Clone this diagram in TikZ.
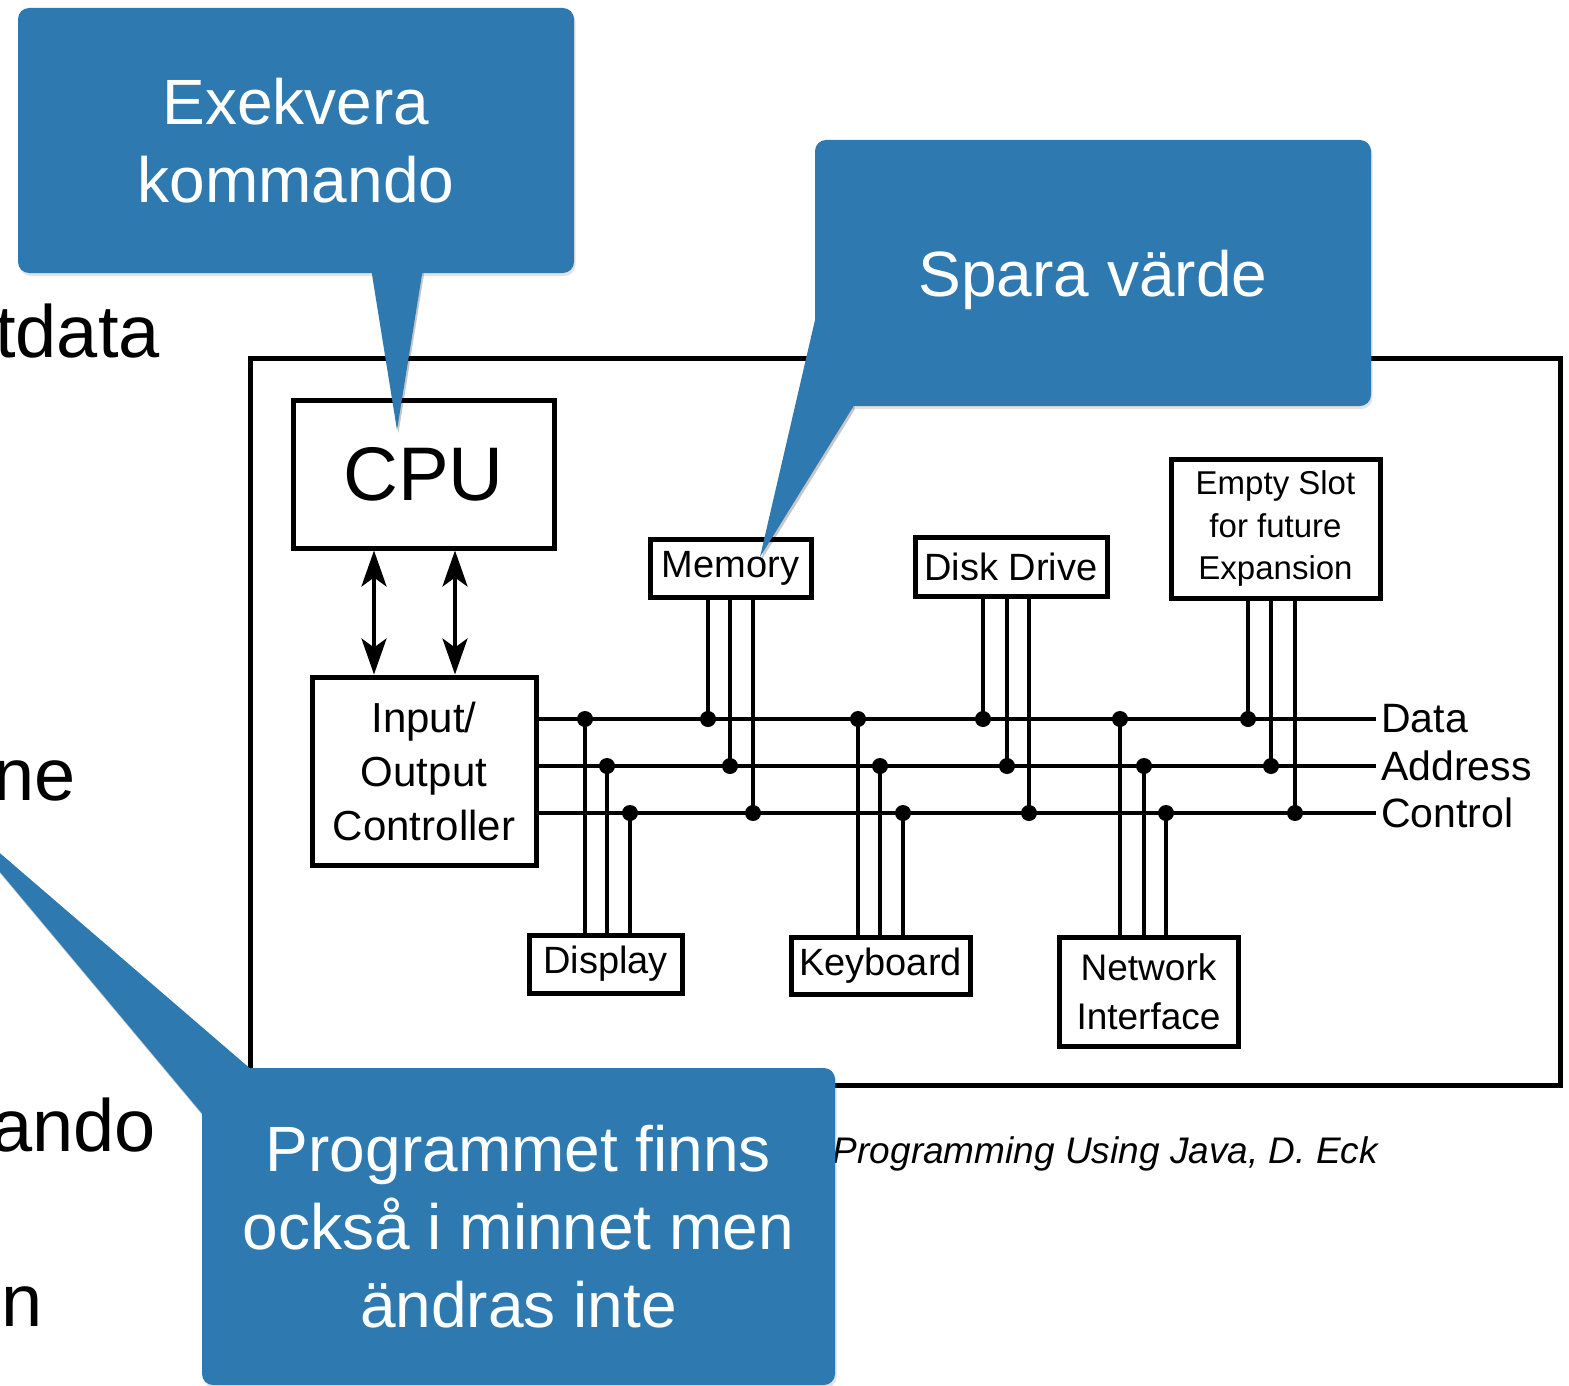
\documentclass[tikz,border=0pt]{standalone}
\usepackage{fontspec}
\setmainfont{Liberation Sans}
\usetikzlibrary{arrows.meta,shadows}
\definecolor{callblue}{RGB}{46,122,176}

\tikzset{
  unit/.style={draw, line width=5pt, inner sep=0pt, align=center},
  bus/.style={line width=4pt},
  junction/.style={circle, fill=black, inner sep=0pt, minimum size=16pt},
  buslabel/.style={anchor=west, inner sep=0pt, font=\fontsize{41}{48}\selectfont},
  bgtext/.style={anchor=base east, inner sep=0pt, font=\fontsize{74}{88}\selectfont},
  callbody/.style={fill=callblue, rounded corners=11pt, text=white, align=center,
    inner sep=0pt, font=\fontsize{64}{78}\selectfont,
    drop shadow={opacity=.22, shadow xshift=1.5pt, shadow yshift=-3pt}},
  pointer/.style={fill=callblue},
  pointershadow/.style={fill=black, opacity=.22, xshift=1.5pt, yshift=-3pt},
  bothtips/.style={{Stealth[length=36pt,width=25pt,inset=9pt]}-{Stealth[length=36pt,width=25pt,inset=9pt]}}
}

\begin{document}
\begin{tikzpicture}[x=1pt,y=-1pt]
\useasboundingbox (0,0) rectangle (1569,1386);
\clip (0,0) rectangle (1569,1386);
\fill[white] (0,0) rectangle (1569,1386);

% slide text running behind the callouts
\node[bgtext] (t1) at (160,357) {tdata};
\node[bgtext] (t2) at (76,800) {ne};
\node[bgtext] (t3) at (156,1151) {ando};
\node[bgtext] (t4) at (43,1326) {n};

% source line
\node[anchor=base east, inner sep=0pt, font=\itshape\fontsize{37}{44}\selectfont] (src) at (1378,1163) {Programming Using Java, D. Eck};

% computer frame
\draw[line width=5pt] (250,358) rectangle (1560,1085);

% units
\node[unit, minimum width=261pt, minimum height=148pt, font=\fontsize{76}{90}\selectfont] (cpu) at (423.5,474) {CPU};
\node[unit, minimum width=224pt, minimum height=188pt, font=\fontsize{42}{54}\selectfont] (io) at (424,771) {Input/\\Output\\Controller};
\node[unit, minimum width=161pt, minimum height=58pt, font=\fontsize{38}{46}\selectfont] (mem) at (730.5,568) {Memory};
\node[unit, minimum width=192pt, minimum height=59pt, font=\fontsize{38}{46}\selectfont] (disk) at (1011,566.5) {Disk Drive};
\node[unit, minimum width=209pt, minimum height=139pt, font=\fontsize{33}{42.5}\selectfont] (slot) at (1275.5,528.5) {Empty Slot\\for future\\Expansion};
\node[unit, minimum width=153pt, minimum height=58pt, font=\fontsize{38}{46}\selectfont] (disp) at (605.5,964) {Display};
\node[unit, minimum width=179pt, minimum height=57pt, font=\fontsize{38}{46}\selectfont] (kbd) at (880.5,965.5) {Keyboard};
\node[unit, minimum width=179pt, minimum height=109pt, font=\fontsize{37}{49}\selectfont] (net) at (1148.5,991.5) {Network\\Interface};

% CPU <-> controller
\coordinate (a1) at (374,0);
\coordinate (a2) at (455,0);
\draw[bus, bothtips] (a1 |- cpu.south) -- (a1 |- io.north);
\draw[bus, bothtips] (a2 |- cpu.south) -- (a2 |- io.north);

% the three bus lines
\node[buslabel] (lD) at (1381,719) {Data};
\node[buslabel] (lA) at (1381,766) {Address};
\node[buslabel] (lC) at (1381,813) {Control};
\coordinate (eD) at (1376,719);
\coordinate (eA) at (1376,766);
\coordinate (eC) at (1376,813);
\draw[bus] (io.east |- eD) -- (eD);
\draw[bus] (io.east |- eA) -- (eA);
\draw[bus] (io.east |- eC) -- (eC);

% taps from each unit onto the bus
\foreach \dev/\side/\xa/\xb/\xc in {
    mem/south/708/730/753, disk/south/983/1007/1029, slot/south/1248/1271/1295,
    disp/north/585/607/630, kbd/north/858/880/903, net/north/1120/1144/1166}{
  \coordinate (pD) at (\xa,719);
  \coordinate (pA) at (\xb,766);
  \coordinate (pC) at (\xc,813);
  \draw[bus] (pD |- \dev.\side) -- (pD);
  \draw[bus] (pA |- \dev.\side) -- (pA);
  \draw[bus] (pC |- \dev.\side) -- (pC);
  \node[junction] (\dev D) at (pD) {};
  \node[junction] (\dev A) at (pA) {};
  \node[junction] (\dev C) at (pC) {};
}

% callout: execute
\fill[pointershadow] (370,262) -- (424,262) -- (397,430) -- cycle;
\node[callbody, minimum width=556pt, minimum height=265pt] (c1) at (296,140.5) {Exekvera\\kommando};
\fill[pointer] (370,262) -- (424,262) -- (397,430) -- cycle;

% callout: store value
\fill[pointershadow] (815,320) -- (760,557) -- (853,407) -- (853,320) -- cycle;
\node[callbody, text depth=0pt, minimum width=556pt, minimum height=266pt] (c2) at (1093,273) {Spara värde};
\fill[pointer] (815,320) -- (760,557) -- (853,407) -- (853,320) -- cycle;

% callout: program in memory
\fill[pointershadow] (-56,805) -- (260,1077) -- (215,1129) -- cycle;
\node[callbody, minimum width=633pt, minimum height=317pt] (c3) at (518.5,1226.5) {Programmet finns\\också i minnet men\\ändras inte};
\fill[pointer] (-56,805) -- (260,1077) -- (215,1129) -- cycle;
\end{tikzpicture}
\end{document}
